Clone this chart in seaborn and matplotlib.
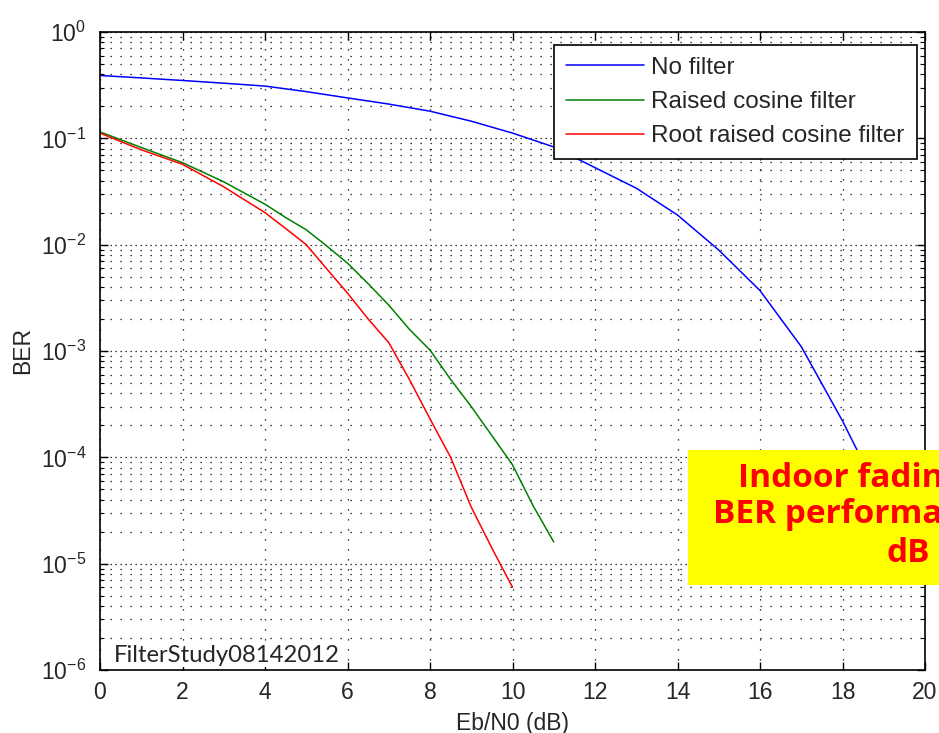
import numpy as np
import pandas as pd
import matplotlib
matplotlib.use("Agg")
import matplotlib.pyplot as plt
import seaborn as sns
from matplotlib.patches import Rectangle
from matplotlib.ticker import LogLocator, NullFormatter

# datos (Eb/N0 en dB, BER)
ebn0_sin = [0, 1, 2, 3, 4, 5, 6, 7, 8, 9, 10, 11, 12, 13, 14, 15, 16, 17, 18, 18.5, 19, 19.5]
ber_sin = [0.39, 0.37, 0.35, 0.33, 0.31, 0.275, 0.24, 0.21, 0.18, 0.145, 0.112, 0.083,
           0.053, 0.034, 0.019, 0.0089, 0.0037, 0.0011, 0.00022, 9e-5, 4e-5, 1e-5]

ebn0_rc = [0, 1, 2, 3, 4, 4.5, 5, 5.5, 6, 6.5, 7, 7.5, 8, 8.5, 9, 9.5, 10, 10.5, 11]
ber_rc = [0.115, 0.082, 0.059, 0.039, 0.024, 0.018, 0.0138, 0.0097, 0.0067, 0.0043,
          0.0027, 0.0016, 0.00102, 5.4e-4, 3.0e-4, 1.6e-4, 8.5e-5, 3.5e-5, 1.6e-5]

ebn0_rrc = [0, 1, 2, 3, 4, 4.5, 5, 5.5, 6, 6.5, 7, 7.5, 8, 8.5, 9, 9.5, 10]
ber_rrc = [0.112, 0.078, 0.057, 0.035, 0.020, 0.0142, 0.010, 0.0059, 0.0035, 0.0020,
           0.0012, 5.4e-4, 2.3e-4, 1.0e-4, 3.4e-5, 1.4e-5, 6e-6]

series = ["No filter", "Raised cosine filter", "Root raised cosine filter"]
colores = ["#0000ff", "#008000", "#ff0000"]

df = pd.concat([
    pd.DataFrame({"EbN0": ebn0_sin, "BER": ber_sin, "serie": series[0]}),
    pd.DataFrame({"EbN0": ebn0_rc, "BER": ber_rc, "serie": series[1]}),
    pd.DataFrame({"EbN0": ebn0_rrc, "BER": ber_rrc, "serie": series[2]}),
])

sns.set_style("ticks")
plt.rcParams["font.family"] = ["Liberation Sans", "DejaVu Sans"]
plt.rcParams["mathtext.default"] = "regular"
plt.rcParams["axes.unicode_minus"] = False

fig = plt.figure(figsize=(9.39, 7.33), dpi=100)
ax = fig.add_axes([100 / 939, 1 - 670 / 733, 825 / 939, 638 / 733])
ax.set_yscale("log")

sns.lineplot(data=df, x="EbN0", y="BER", hue="serie", hue_order=series,
             palette=colores, estimator=None, sort=False, linewidth=1.1,
             legend=False, ax=ax)

ax.set_xlim(0, 20)
ax.set_ylim(1e-6, 1)
ax.set_xticks(range(0, 21, 2))
ax.yaxis.set_major_locator(LogLocator(base=10, numticks=10))
ax.yaxis.set_minor_locator(LogLocator(base=10, subs=np.arange(2, 10), numticks=100))
ax.yaxis.set_minor_formatter(NullFormatter())

ax.tick_params(which="both", direction="in", top=True, right=True, color="k")
ax.tick_params(which="major", length=6, width=1, labelsize=16.5, pad=8)
ax.tick_params(axis="y", which="major", pad=10)
ax.tick_params(which="minor", length=3, width=0.8)

# rejilla punteada estilo matlab
ax.xaxis.grid(True, which="major", color="k", linestyle=(0, (1, 7)), linewidth=0.9)
ax.yaxis.grid(True, which="major", color="k", linestyle=(0, (1, 3)), linewidth=0.9)
ax.yaxis.grid(True, which="minor", color="k", linestyle=(0, (1, 7)), linewidth=0.9)

for s in ax.spines.values():
    s.set_color("k")
    s.set_linewidth(1.2)

ax.set_xlabel("Eb/N0 (dB)", fontsize=16.5, labelpad=6)
ax.set_ylabel("BER", fontsize=16.5, labelpad=5)

ax.legend(ax.get_lines()[:3], series, loc="upper right", bbox_to_anchor=(0.990, 0.980),
          borderaxespad=0, fancybox=False, framealpha=1, edgecolor="k", fontsize=17.5,
          handlelength=3.2, handletextpad=0.3, labelspacing=0.5, borderpad=0.5)
ax.get_legend().get_frame().set_linewidth(1.2)

# caja amarilla encima
fig.add_artist(Rectangle((688 / 939, 1 - 585 / 733), 1, 135 / 733,
                         transform=fig.transFigure, facecolor="#ffff00",
                         edgecolor="none", zorder=5))
fig.text(738 / 939, 1 - 487 / 733, "Indoor fading", color="red", fontsize=24,
         fontweight="bold", family="Open Sans", va="baseline", zorder=6)
fig.text(713 / 939, 1 - 523 / 733, "BER performance", color="red", fontsize=24,
         fontweight="bold", family="Open Sans", va="baseline", zorder=6)
fig.text(887 / 939, 1 - 562 / 733, "dB", color="red", fontsize=24,
         fontweight="bold", family="Open Sans", va="baseline", zorder=6)

fig.text(114 / 939, 1 - 662 / 733, "FilterStudy08142012", fontsize=17.2, family="Lato",
         va="baseline", zorder=6,
         bbox=dict(facecolor="white", edgecolor="none", pad=1))

fig.savefig("out.png", dpi=100)
